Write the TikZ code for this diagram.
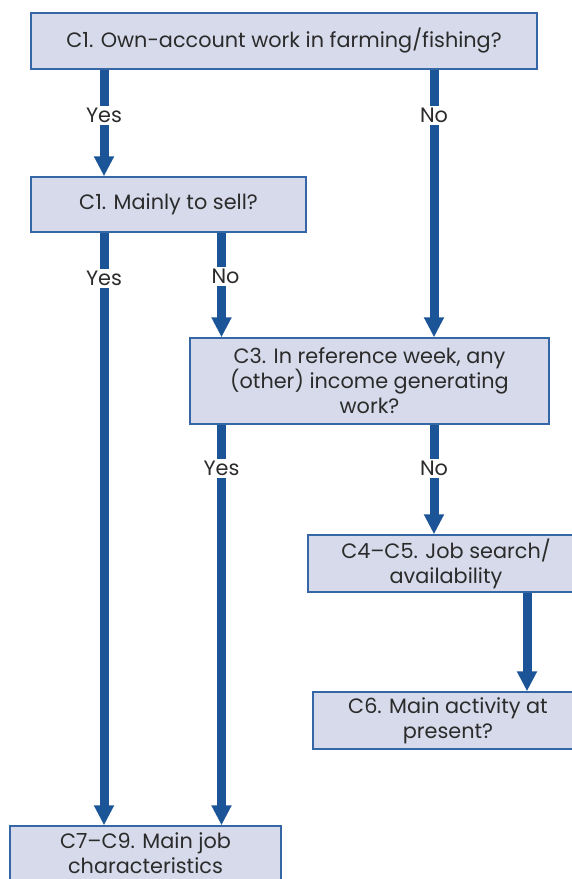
\documentclass[tikz,border=0pt]{standalone}
\usepackage{fontspec}
\setmainfont{Poppins}
\usetikzlibrary{arrows.meta}

\definecolor{boxfill}{HTML}{D6DAEA}
\definecolor{boxline}{HTML}{3566A6}
\definecolor{arrowblue}{HTML}{1B5597}
\definecolor{textgray}{HTML}{2B2B2B}

\begin{document}
\begin{tikzpicture}[
  x=1pt, y=-1pt,
  font=\fontsize{20.8}{25}\selectfont, text=textgray,
  box/.style={draw=boxline, line width=1.5pt, fill=boxfill, align=center, inner sep=0pt},
  line/.style={arrowblue, line width=9pt, -{Triangle[width=19pt,length=20pt]}},
  lbl/.style={fill=white, inner sep=2pt, text=textgray}
]
\clip (0,0) rectangle (572,879);
\fill[white] (0,0) rectangle (572,879);

\node[box, minimum width=506pt, minimum height=56pt] (q1) at (284,41) {C1. Own-account work in farming/fishing?};
\node[box, minimum width=275pt, minimum height=55pt] (q2) at (168.5,204.5) {C1. Mainly to sell?};
\node[box, minimum width=359pt, minimum height=86pt] (q3) at (369.5,381) {C3. In reference week, any\\(other) income generating\\work?};
\node[box, minimum width=276pt, minimum height=57pt] (q4) at (446,563.5) {C4--C5. Job search/\\availability};
\node[box, minimum width=270pt, minimum height=57pt] (q6) at (448,720.5) {C6. Main activity at\\present?};
\node[box, minimum width=271pt, minimum height=54pt] (q7) at (145.5,853) {C7--C9. Main job\\characteristics};

\coordinate (xa) at (104,0);
\coordinate (xb) at (221.5,0);
\coordinate (xc) at (434,0);
\coordinate (xd) at (527,0);

\draw[line] (q1.south -| xa) -- node[lbl, pos=0.43] {Yes} (q2.north -| xa);
\draw[line] (q1.south -| xc) -- node[lbl, pos=0.17] {No} (q3.north -| xc);
\draw[line] (q2.south -| xa) -- node[lbl, pos=0.077] {Yes} (q7.north -| xa);
\draw[line] (q2.south -| xb) -- node[lbl, pos=0.42, xshift=4pt] {No} (q3.north -| xb);
\draw[line] (q3.south -| xb) -- node[lbl, pos=0.11] {Yes} (q7.north -| xb);
\draw[line] (q3.south -| xc) -- node[lbl, pos=0.4] {No} (q4.north -| xc);
\draw[line] (q4.south -| xd) -- (q6.north -| xd);
\end{tikzpicture}
\end{document}
